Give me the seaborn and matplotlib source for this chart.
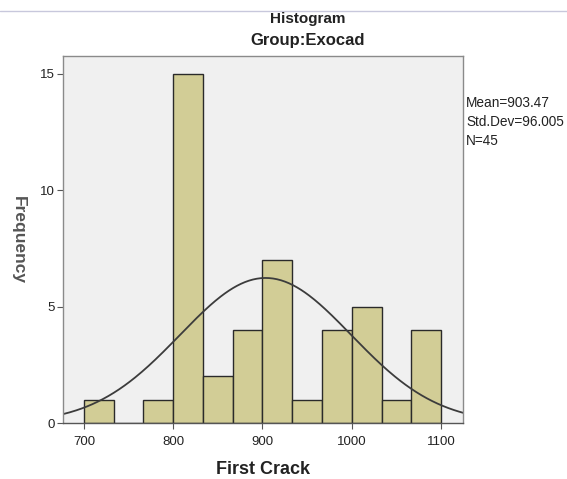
import numpy as np
import pandas as pd
import matplotlib
matplotlib.use("Agg")
import matplotlib.pyplot as plt
import seaborn as sns

# Data
bin_edges = [700.0, 733.33, 766.67, 800.0, 833.33, 866.67, 900.0, 933.33, 966.67, 1000.0, 1033.33, 1066.67, 1100.0]
counts = [1, 0, 1, 15, 2, 4, 7, 1, 4, 5, 1, 4]
mean_val = 903.47
std_val = 96.005
n_val = 45
x_ticks = [700, 800, 900, 1000, 1100]
y_ticks = [0, 5, 10, 15]

sns.set_theme(style="white")
plt.rcParams['font.family'] = ['Liberation Sans', 'DejaVu Sans']

centers = [(bin_edges[i] + bin_edges[i + 1]) / 2 for i in range(len(counts))]
df = pd.DataFrame({"value": centers, "count": counts})

fig = plt.figure(figsize=(5.67, 4.79), dpi=100)
ax = fig.add_axes([0.111, 0.1169, 0.7056, 0.7662])
ax.set_facecolor("#f0f0f0")

sns.histplot(data=df, x="value", weights="count", bins=bin_edges, ax=ax,
             color="#d2cd96", edgecolor="#2a2a2a", linewidth=1.0, alpha=1.0)

# normal curve
xs = np.linspace(676.5, 1124.6, 300)
bw = bin_edges[1] - bin_edges[0]
ys = n_val * bw / (std_val * np.sqrt(2 * np.pi)) * np.exp(-0.5 * ((xs - mean_val) / std_val) ** 2)
sns.lineplot(x=xs, y=ys, ax=ax, color="#3c3c3c", linewidth=1.3)

ax.set_xlim(676.5, 1124.6)
ax.set_ylim(0, 15.77)
ax.set_xticks(x_ticks)
ax.set_yticks(y_ticks)
ax.set_xticklabels([str(t) for t in x_ticks], fontsize=9.5, color="#222222")
ax.set_yticklabels([str(t) for t in y_ticks], fontsize=9.5, color="#222222")
ax.tick_params(axis="x", direction="out", length=4, width=0.8, color="#555555", pad=5, bottom=True)
ax.tick_params(axis="y", direction="out", length=4, width=0.8, color="#555555", pad=2, left=True)
for s in ax.spines.values():
    s.set_color("#8a8a8a")
    s.set_linewidth(1.0)
ax.spines["bottom"].set_color("#555555")

ax.set_xlabel("First Crack", fontsize=13, fontweight="bold", color="#222222")
ax.set_ylabel("Frequency", fontsize=12.5, fontweight="bold", color="#555555", rotation=270)
ax.yaxis.set_label_coords(-0.13, 0.5)
ax.xaxis.set_label_coords(0.5, -0.103)

fig.text(0.543, 1 - 19 / 479, "Histogram", ha="center", va="center", fontsize=11,
         fontweight="bold", color="#222222")
fig.text(0.543, 1 - 40 / 479, "Group:Exocad", ha="center", va="center", fontsize=12,
         fontweight="bold", color="#222222")

stats = [f"Mean={mean_val:.2f}", f"Std.Dev={std_val:.3f}", f"N={n_val}"]
for i, s in enumerate(stats):
    fig.text(466 / 567, 1 - (103 + 19 * i) / 479, s, ha="left", va="center", fontsize=9.8,
             color="#222222")

# thin top separator line
fig.add_artist(plt.Line2D([0, 1], [1 - 11 / 479, 1 - 11 / 479], color="#c8c8dc", linewidth=1.0))

fig.savefig("out.png", dpi=100, facecolor="white")
